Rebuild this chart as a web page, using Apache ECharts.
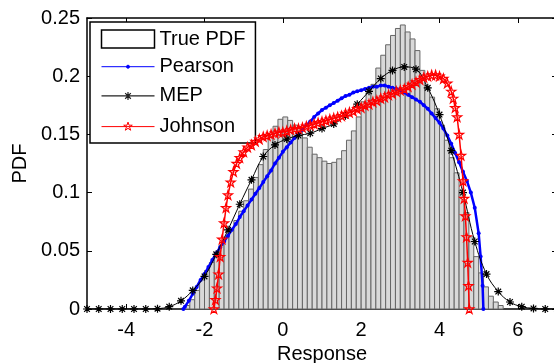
<!DOCTYPE html>
<html><head><meta charset="utf-8">
<script src="https://cdn.jsdelivr.net/npm/echarts@6/dist/echarts.min.js"></script>
<style>html,body{margin:0;padding:0;background:#fff}#c{width:554px;height:363px}</style>
</head><body><div id="c"></div>
<script>
// ---------------- data ----------------
const binWidth = 0.125;
const histCenters = [-2.4375,-2.3125,-2.1875,-2.0625,-1.9375,-1.8125,-1.6875,-1.5625,-1.4375,-1.3125,-1.1875,-1.0625,-0.9375,-0.8125,-0.6875,-0.5625,-0.4375,-0.3125,-0.1875,-0.0625,0.0625,0.1875,0.3125,0.4375,0.5625,0.6875,0.8125,0.9375,1.0625,1.1875,1.3125,1.4375,1.5625,1.6875,1.8125,1.9375,2.0625,2.1875,2.3125,2.4375,2.5625,2.6875,2.8125,2.9375,3.0625,3.1875,3.3125,3.4375,3.5625,3.6875,3.8125,3.9375,4.0625,4.1875,4.3125,4.4375,4.5625,4.6875,4.8125,4.9375,5.0625,5.1875,5.3125,5.4375,5.5625];
const histHeights = [0.003,0.008,0.016,0.025,0.033,0.040,0.048,0.055,0.062,0.069,0.076,0.084,0.093,0.103,0.113,0.124,0.137,0.148,0.157,0.163,0.165,0.162,0.158,0.155,0.147,0.139,0.133,0.130,0.127,0.125,0.126,0.129,0.136,0.145,0.153,0.165,0.178,0.186,0.193,0.207,0.218,0.227,0.235,0.241,0.244,0.238,0.232,0.222,0.205,0.190,0.182,0.172,0.158,0.145,0.130,0.117,0.102,0.083,0.062,0.045,0.031,0.019,0.011,0.006,0.003];

const pearsonX = [-2.54,-2.5,-2.4,-2.3,-2.2,-2.1,-2.0,-1.9,-1.8,-1.7,-1.6,-1.5,-1.4,-1.3,-1.2,-1.1,-1.0,-0.9,-0.8,-0.7,-0.6,-0.5,-0.4,-0.3,-0.2,-0.1,0.0,0.1,0.2,0.3,0.4,0.5,0.6,0.7,0.8,0.9,1.0,1.1,1.2,1.3,1.4,1.5,1.6,1.7,1.8,1.9,2.0,2.1,2.2,2.3,2.4,2.5,2.6,2.7,2.8,2.9,3.0,3.1,3.2,3.3,3.4,3.5,3.6,3.7,3.8,3.9,4.0,4.1,4.2,4.3,4.4,4.5,4.6,4.7,4.8,4.9,5.0,5.05,5.1,5.12];
const pearsonY = [0,0.002,0.007,0.013,0.019,0.025,0.030,0.036,0.042,0.048,0.053,0.058,0.063,0.068,0.073,0.079,0.084,0.089,0.094,0.099,0.104,0.109,0.114,0.119,0.125,0.130,0.135,0.139,0.143,0.147,0.151,0.154,0.158,0.161,0.165,0.168,0.171,0.173,0.175,0.177,0.179,0.181,0.183,0.184,0.186,0.187,0.188,0.189,0.190,0.191,0.191,0.192,0.192,0.191,0.190,0.189,0.188,0.186,0.184,0.182,0.180,0.178,0.175,0.172,0.168,0.164,0.160,0.155,0.149,0.142,0.134,0.126,0.118,0.110,0.100,0.087,0.065,0.045,0.020,0];

const mepX = [-5,-4.7,-4.4,-4.1,-3.8,-3.5,-3.2,-2.9,-2.6,-2.3,-2.0,-1.7,-1.4,-1.1,-0.8,-0.5,-0.2,0.1,0.4,0.7,1.0,1.3,1.6,1.9,2.2,2.5,2.8,3.1,3.4,3.7,4.0,4.3,4.6,4.9,5.2,5.5,5.8,6.1,6.4,6.7,7.0];
const mepY = [0,0,0,0,0,0,0.0003,0.002,0.007,0.016,0.028,0.047,0.068,0.090,0.111,0.131,0.141,0.146,0.149,0.151,0.155,0.159,0.166,0.176,0.187,0.198,0.205,0.208,0.206,0.190,0.167,0.136,0.100,0.058,0.030,0.015,0.006,0.002,0.0005,0,0];

const johnsonX = [-1.76,-1.72,-1.68,-1.64,-1.60,-1.55,-1.50,-1.45,-1.40,-1.33,-1.26,-1.18,-1.10,-1.0,-0.9,-0.8,-0.7,-0.6,-0.5,-0.4,-0.3,-0.2,-0.1,0.0,0.1,0.2,0.3,0.4,0.5,0.6,0.7,0.8,0.9,1.0,1.1,1.2,1.3,1.4,1.5,1.6,1.7,1.8,1.9,2.0,2.1,2.2,2.3,2.4,2.5,2.6,2.7,2.8,2.9,3.0,3.1,3.2,3.3,3.4,3.5,3.6,3.7,3.8,3.9,4.0,4.1,4.2,4.3,4.35,4.4,4.45,4.5,4.55,4.6,4.63,4.66,4.69,4.72,4.74,4.76];
const johnsonY = [0,0.008,0.018,0.030,0.045,0.060,0.074,0.087,0.098,0.109,0.118,0.125,0.130,0.135,0.139,0.141,0.144,0.146,0.148,0.149,0.150,0.151,0.152,0.152,0.153,0.154,0.155,0.155,0.156,0.157,0.158,0.159,0.160,0.161,0.162,0.163,0.164,0.165,0.166,0.168,0.169,0.170,0.172,0.173,0.175,0.176,0.178,0.179,0.181,0.182,0.184,0.185,0.187,0.188,0.189,0.191,0.193,0.195,0.197,0.199,0.200,0.201,0.201,0.200,0.198,0.194,0.187,0.181,0.173,0.165,0.150,0.132,0.110,0.095,0.080,0.062,0.040,0.020,0];

const xTicks = [-4,-2,0,2,4,6];
const seriesNames = ['True PDF','Pearson','MEP','Johnson'];

// ---------------- drawing ----------------
const FONT = '"Liberation Sans", Arial, sans-serif';
function starPath(cx, cy, R) {
  const r = R * 0.382; let d = '';
  for (let i = 0; i < 10; i++) {
    const a = -Math.PI / 2 + i * Math.PI / 5, rr = i % 2 ? r : R;
    d += (i ? 'L' : 'M') + (cx + rr * Math.cos(a)).toFixed(2) + ',' + (cy + rr * Math.sin(a)).toFixed(2);
  }
  return d + 'Z';
}
function asteriskPath(cx, cy, R) {
  const d = R * 0.707;
  return `M${cx},${cy-R}L${cx},${cy+R}M${cx-R},${cy}L${cx+R},${cy}M${cx-d},${cy-d}L${cx+d},${cy+d}M${cx-d},${cy+d}L${cx+d},${cy-d}`;
}
const IW = 53, IH = 18;
const frame = `M0,0M${IW},${IH}M0,${IH/2}L${IW},${IH/2}`;
const pearsonIcon = 'path://' + frame + `M${IW/2+1.5},${IH/2}A1.5,1.5,0,1,1,${IW/2-1.5},${IH/2}A1.5,1.5,0,1,1,${IW/2+1.5},${IH/2}Z`;
const mepIcon = 'path://' + frame + asteriskPath(IW/2, IH/2, 4);
const johnsonIcon = 'path://' + frame + starPath(IW/2, IH/2, 4.5);

const zip = (xs, ys) => xs.map((x, i) => [x, ys[i]]);
const chart = echarts.init(document.getElementById('c'), null, {renderer: 'canvas'});
const axisCommon = {
  axisLine: {show: true, onZero: false, lineStyle: {color: '#000', width: 1.5}},
  axisTick: {show: true, inside: true, length: 5, lineStyle: {color: '#000', width: 1}},
  splitLine: {show: false}
};
chart.setOption({
  animation: false,
  backgroundColor: '#fff',
  textStyle: {fontFamily: FONT},
  grid: {left: 87, top: 18, right: -3, bottom: 54, containLabel: false, outerBoundsMode: 'none'},
  legend: {
    left: 90, top: 22, orient: 'vertical',
    backgroundColor: '#fff', borderColor: '#000', borderWidth: 1.5,
    padding: [7, 10, 5, 9], itemGap: 7.7, itemWidth: IW, itemHeight: IH,
    textStyle: {fontFamily: FONT, fontSize: 20, color: '#000', lineHeight: 20},
    data: [
      {name: seriesNames[0], icon: 'rect', itemStyle: {color: '#fff', borderColor: '#000', borderWidth: 1.5}},
      {name: seriesNames[1], icon: pearsonIcon, itemStyle: {color: '#0000ff', borderColor: '#0000ff', borderWidth: 1}},
      {name: seriesNames[2], icon: mepIcon, itemStyle: {color: 'none', borderColor: '#222', borderWidth: 1.2}},
      {name: seriesNames[3], icon: johnsonIcon, itemStyle: {color: 'none', borderColor: '#ff0000', borderWidth: 1}}
    ]
  },
  xAxis: [
    Object.assign({}, axisCommon, {
      type: 'value', min: -5, max: 7, position: 'bottom',
      name: 'Response', nameLocation: 'middle', nameGap: 33,
      nameTextStyle: {fontFamily: FONT, fontSize: 20, color: '#000'},
      axisTick: Object.assign({}, axisCommon.axisTick, {customValues: xTicks}),
      axisLabel: {customValues: xTicks, fontFamily: FONT, fontSize: 20, color: '#000', margin: 11}
    }),
    Object.assign({}, axisCommon, {
      type: 'value', min: -5, max: 7, position: 'top',
      axisTick: Object.assign({}, axisCommon.axisTick, {customValues: xTicks}),
      axisLabel: {show: false}
    })
  ],
  yAxis: [
    Object.assign({}, axisCommon, {
      type: 'value', min: 0, max: 0.25, interval: 0.05, position: 'left',
      name: 'PDF', nameLocation: 'middle', nameGap: 52,
      nameTextStyle: {fontFamily: FONT, fontSize: 20, color: '#000'},
      axisLabel: {fontFamily: FONT, fontSize: 20, color: '#000', margin: 7}
    }),
    Object.assign({}, axisCommon, {
      type: 'value', min: 0, max: 0.25, interval: 0.05, position: 'right',
      axisLabel: {show: false}
    })
  ],
  series: [
    {
      name: seriesNames[0], type: 'custom', xAxisIndex: 0, yAxisIndex: 0, z: 1,
      data: zip(histCenters, histHeights),
      renderItem: function (params, api) {
        const c = api.value(0), h = api.value(1);
        const p0 = api.coord([c - binWidth / 2, h]);
        const p1 = api.coord([c + binWidth / 2, 0]);
        return {type: 'rect', shape: {x: p0[0], y: p0[1], width: p1[0] - p0[0], height: p1[1] - p0[1]},
          style: {fill: '#d9d9d9', stroke: '#666', lineWidth: 1}};
      }
    },
    {
      name: seriesNames[1], type: 'line', z: 3, data: zip(pearsonX, pearsonY),
      symbol: 'circle', symbolSize: 4, showSymbol: true,
      itemStyle: {color: '#0000ff'}, lineStyle: {color: '#0000ff', width: 2.5}
    },
    {
      name: seriesNames[2], type: 'line', z: 4, data: zip(mepX, mepY), smooth: 0.4,
      symbol: 'path://' + asteriskPath(0, 0, 5), symbolSize: 8, showSymbol: true,
      itemStyle: {color: '#000', borderColor: '#000', borderWidth: 1.2},
      lineStyle: {color: '#000', width: 1}
    },
    {
      name: seriesNames[3], type: 'line', z: 5, data: zip(johnsonX, johnsonY),
      symbol: 'path://' + starPath(0, 0, 5), symbolSize: 9, showSymbol: true,
      itemStyle: {color: 'none', borderColor: '#ff0000', borderWidth: 1.2},
      lineStyle: {color: '#ff0000', width: 1.5}
    }
  ]
});
</script></body></html>
